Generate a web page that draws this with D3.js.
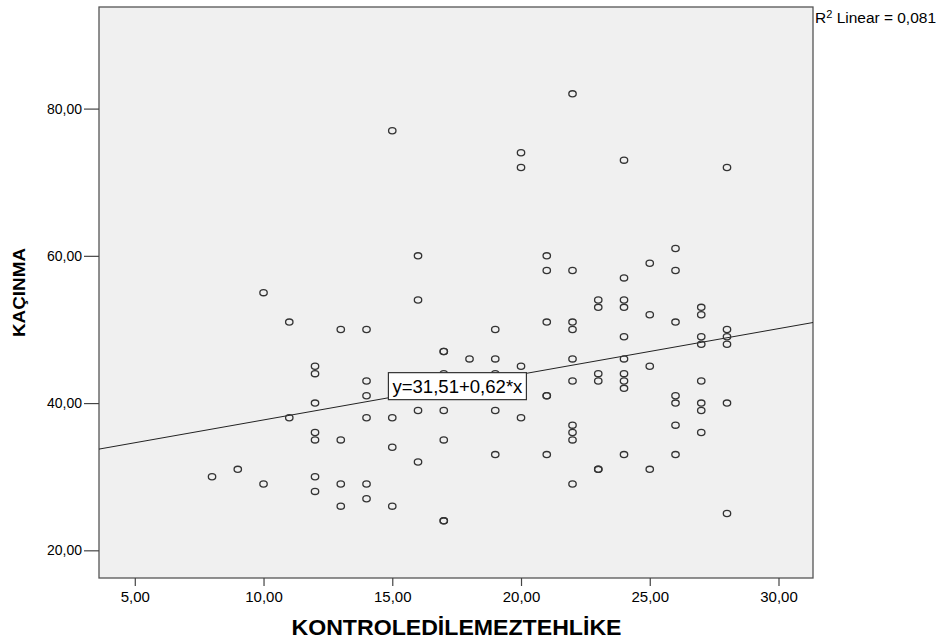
<!DOCTYPE html>
<html>
<head>
<meta charset="utf-8">
<script src="https://cdn.jsdelivr.net/npm/d3@7"></script>
<style>
  body { margin: 0; background: #fff; }
  svg text { font-family: Arial, "Liberation Sans", sans-serif; fill: #000; }
</style>
</head>
<body>
<div id="chart"></div>
<script>
// KONTROLEDİLEMEZTEHLİKE (x) vs KAÇINMA (y)
var xValues = [
  8, 9, 10, 10, 11, 11,
  12, 12, 12, 12, 12, 12, 12,
  13, 13, 13, 13,
  14, 14, 14, 14, 14, 14,
  15, 15, 15, 15,
  16, 16, 16, 16,
  17, 17, 17, 17, 17, 17, 17,
  18,
  19, 19, 19, 19, 19,
  20, 20, 20, 20,
  21, 21, 21, 21, 21, 21,
  22, 22, 22, 22, 22, 22, 22, 22, 22, 22,
  23, 23, 23, 23, 23, 23,
  24, 24, 24, 24, 24, 24, 24, 24, 24, 24,
  25, 25, 25, 25,
  26, 26, 26, 26, 26, 26, 26,
  27, 27, 27, 27, 27, 27, 27, 27,
  28, 28, 28, 28, 28, 28
];
var yValues = [
  30, 31, 55, 29, 51, 38,
  45, 44, 40, 36, 35, 30, 28,
  50, 35, 29, 26,
  50, 43, 41, 38, 29, 27,
  77, 38, 34, 26,
  60, 54, 39, 32,
  47, 47, 44, 39, 35, 24, 24,
  46,
  50, 46, 44, 39, 33,
  74, 72, 45, 38,
  60, 58, 51, 41, 41, 33,
  82, 58, 51, 50, 46, 43, 37, 36, 35, 29,
  54, 53, 44, 43, 31, 31,
  73, 57, 54, 53, 49, 46, 44, 43, 42, 33,
  59, 52, 45, 31,
  61, 58, 51, 41, 40, 37, 33,
  53, 52, 49, 48, 43, 40, 39, 36,
  72, 50, 49, 48, 40, 25
];

var xTicks = [5, 10, 15, 20, 25, 30];
var yTicks = [20, 40, 60, 80];

// fit line and its label
var intercept = 31.51, slope = 0.62;
var fitLabel = "y=31,51+0,62*x";
var r2Label = "0,081";
var fitLabelAt = { x: 14.85, y: 42.3 };

var xTitle = "KONTROLEDİLEMEZTEHLİKE";
var yTitle = "KAÇINMA";

var W = 947, H = 639;
var plot = { left: 99, top: 7, right: 813, bottom: 578 };

var x = d3.scaleLinear().domain([3.61, 31.34]).range([plot.left, plot.right]);
var y = d3.scaleLinear().domain([16.24, 93.8]).range([plot.bottom, plot.top]);

var fmt = function (d) {
  return d3.format(".2f")(d).replace(".", ",");
};

var svg = d3.select("#chart").append("svg").attr("width", W).attr("height", H);

// plot background
svg.append("rect")
  .attr("x", plot.left).attr("y", plot.top)
  .attr("width", plot.right - plot.left).attr("height", plot.bottom - plot.top)
  .attr("fill", "#f0f0f0")
  .attr("stroke", "#555").attr("stroke-width", 1.3);

// axes
var xAxis = d3.axisBottom(x).tickValues(xTicks).tickFormat(fmt).tickSize(8).tickPadding(5);
var yAxis = d3.axisLeft(y).tickValues(yTicks).tickFormat(fmt).tickSize(15).tickPadding(2);

var gx = svg.append("g").attr("transform", "translate(0," + plot.bottom + ")").call(xAxis);
var gy = svg.append("g").attr("transform", "translate(" + plot.left + ",0)").call(yAxis);

[gx, gy].forEach(function (g) {
  g.select(".domain").remove();
  g.selectAll(".tick line").attr("stroke", "#444").attr("stroke-width", 1.2);
  g.selectAll(".tick text").attr("fill", "#222").style("font-family", "Arial, 'Liberation Sans', sans-serif");
});
gx.selectAll(".tick text").style("font-size", "15px");
gy.selectAll(".tick text").style("font-size", "14px");

// fit line
var line = d3.line().x(function (d) { return x(d); }).y(function (d) { return y(intercept + slope * d); });
svg.append("path")
  .attr("d", line(x.domain()))
  .attr("fill", "none")
  .attr("stroke", "#222")
  .attr("stroke-width", 1);

// points (slightly wide ellipses, like the SPSS marker)
svg.append("g")
  .selectAll("ellipse")
  .data(xValues.map(function (v, i) { return { x: v, y: yValues[i] }; }))
  .enter()
  .append("ellipse")
  .attr("cx", function (d) { return x(d.x); })
  .attr("cy", function (d) { return y(d.y); })
  .attr("rx", 3.7)
  .attr("ry", 3.1)
  .attr("fill", "none")
  .attr("stroke", "#333")
  .attr("stroke-width", 1.3);

// equation label box
var lx = x(fitLabelAt.x), ly = y(fitLabelAt.y);
svg.append("rect")
  .attr("x", lx).attr("y", ly - 13.5)
  .attr("width", 138).attr("height", 27)
  .attr("fill", "#fff")
  .attr("stroke", "#333").attr("stroke-width", 1.2);
svg.append("text")
  .attr("x", lx + 4).attr("y", ly + 7)
  .attr("textLength", 130).attr("lengthAdjust", "spacingAndGlyphs")
  .style("font-size", "18px")
  .text(fitLabel);

// R2 note
var r2 = svg.append("text")
  .attr("x", plot.right + 2).attr("y", 23)
  .attr("textLength", 121).attr("lengthAdjust", "spacingAndGlyphs")
  .style("font-size", "14px");
r2.append("tspan").text("R");
r2.append("tspan").attr("dy", -5).style("font-size", "10px").text("2");
r2.append("tspan").attr("dy", 5).text(" Linear = " + r2Label);

// axis titles
svg.append("text")
  .attr("x", (plot.left + plot.right) / 2 + 0.5).attr("y", 635)
  .attr("text-anchor", "middle")
  .attr("textLength", 330).attr("lengthAdjust", "spacingAndGlyphs")
  .style("font-size", "22px").style("font-weight", "bold")
  .text(xTitle);

svg.append("text")
  .attr("transform", "translate(25,292.5) rotate(-90)")
  .attr("text-anchor", "middle")
  .attr("textLength", 89).attr("lengthAdjust", "spacingAndGlyphs")
  .style("font-size", "17px").style("font-weight", "bold")
  .text(yTitle);
</script>
</body>
</html>
